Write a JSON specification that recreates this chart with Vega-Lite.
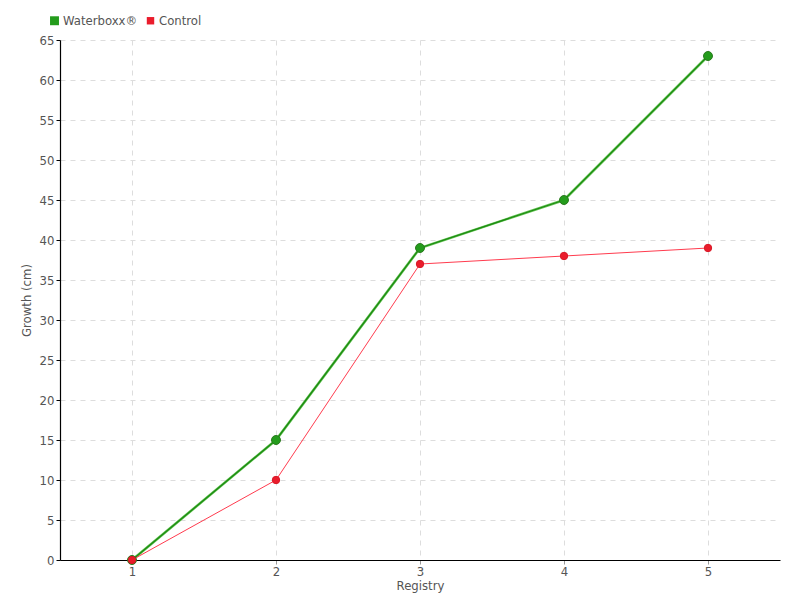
{
  "$schema": "https://vega.github.io/schema/vega-lite/v6.json",
  "width": 720,
  "height": 520,
  "autosize": {"type": "none"},
  "padding": {"left": 60, "top": 40, "right": 20, "bottom": 40},
  "background": "white",
  "config": {
    "font": "DejaVu Sans Condensed, Roboto",
    "view": {"stroke": null},
    "axis": {
      "labelFont": "DejaVu Sans Condensed, Roboto",
      "titleFont": "DejaVu Sans Condensed, Roboto",
      "labelColor": "#555555",
      "titleColor": "#555555",
      "labelFontSize": 13,
      "titleFontSize": 13,
      "titleFontWeight": "normal",
      "domainColor": "#000000",
      "domainWidth": 1.2,
      "gridColor": "#dddddd",
      "gridDash": [5, 5],
      "gridWidth": 1
    }
  },
  "data": {
    "values": [
      {"registry": 1, "series": "Waterboxx®", "growth": 0},
      {"registry": 2, "series": "Waterboxx®", "growth": 15},
      {"registry": 3, "series": "Waterboxx®", "growth": 39},
      {"registry": 4, "series": "Waterboxx®", "growth": 45},
      {"registry": 5, "series": "Waterboxx®", "growth": 63},
      {"registry": 1, "series": "Control", "growth": 0},
      {"registry": 2, "series": "Control", "growth": 10},
      {"registry": 3, "series": "Control", "growth": 37},
      {"registry": 4, "series": "Control", "growth": 38},
      {"registry": 5, "series": "Control", "growth": 39}
    ]
  },
  "encoding": {
    "x": {
      "field": "registry",
      "type": "ordinal",
      "scale": {"type": "point", "padding": 0.5},
      "axis": {
        "title": "Registry",
        "labelAngle": 0,
        "titlePadding": 1,
        "labelPadding": 1,
        "tickColor": "#999999",
        "tickSize": 4,
        "grid": true
      }
    },
    "y": {
      "field": "growth",
      "type": "quantitative",
      "scale": {"domain": [0, 65], "nice": false},
      "axis": {
        "title": "Growth (cm)",
        "values": [0, 5, 10, 15, 20, 25, 30, 35, 40, 45, 50, 55, 60, 65],
        "tickColor": "#000000",
        "tickSize": 4,
        "labelPadding": 2,
        "titlePadding": 6,
        "grid": true
      }
    }
  },
  "layer": [
    {
      "transform": [{"filter": "datum.series === 'Waterboxx®'"}],
      "mark": {"type": "line", "color": "#66c455", "strokeWidth": 2.6}
    },
    {
      "transform": [{"filter": "datum.series === 'Waterboxx®'"}],
      "mark": {"type": "line", "color": "#1c8c12", "strokeWidth": 1.3}
    },
    {
      "transform": [{"filter": "datum.series === 'Control'"}],
      "mark": {"type": "line", "color": "#ff3b4e", "strokeWidth": 1}
    },
    {
      "mark": {"type": "point", "filled": true, "opacity": 1, "shape": "circle", "strokeWidth": 1},
      "encoding": {
        "color": {
          "field": "series",
          "type": "nominal",
          "sort": ["Waterboxx®", "Control"],
          "scale": {"domain": ["Waterboxx®", "Control"], "range": ["#249c1c", "#ea1c2c"]},
          "legend": {
            "title": null,
            "orient": "none",
            "legendX": -12,
            "legendY": -26,
            "direction": "horizontal",
            "symbolType": "square",
            "symbolSize": 26,
            "symbolStrokeWidth": 0,
            "labelFont": "DejaVu Sans Condensed, Roboto",
            "labelFontSize": 13,
            "labelColor": "#555555",
            "labelOffset": 2,
            "columnPadding": 6
          }
        },
        "stroke": {
          "field": "series",
          "type": "nominal",
          "scale": {"domain": ["Waterboxx®", "Control"], "range": ["#2a7a1e", "#d81a28"]},
          "legend": null
        },
        "size": {
          "field": "series",
          "type": "nominal",
          "scale": {"domain": ["Waterboxx®", "Control"], "range": [80, 55]},
          "legend": null
        }
      }
    }
  ]
}
